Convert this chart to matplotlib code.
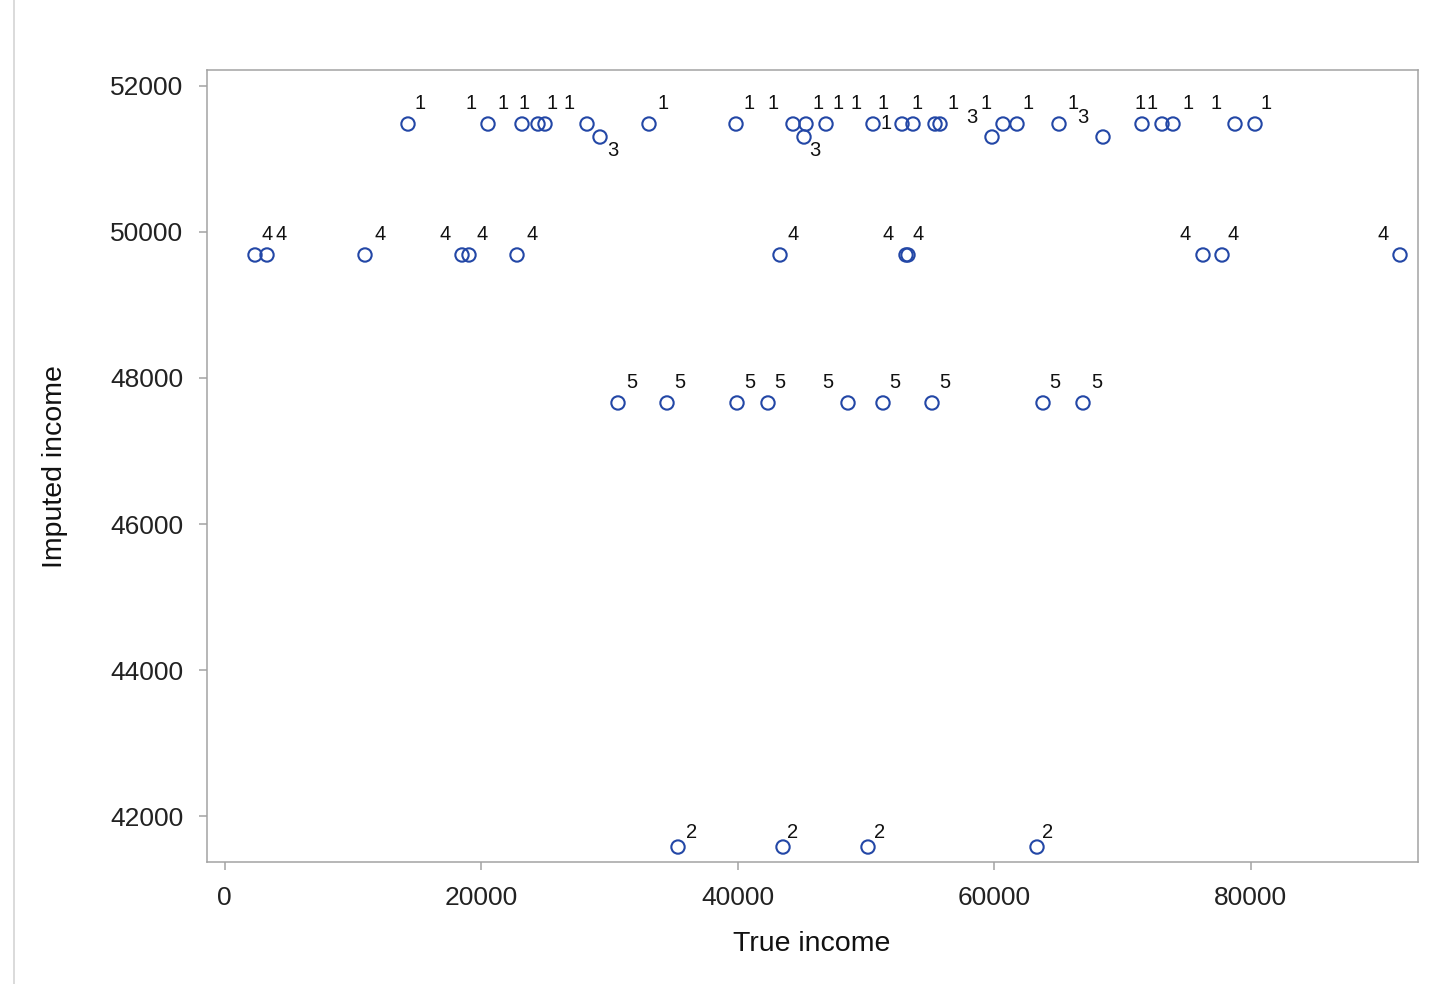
import matplotlib
matplotlib.use("Agg")
import matplotlib.pyplot as plt
from matplotlib.lines import Line2D

plt.rcParams['font.family'] = ['Liberation Sans', 'DejaVu Sans']

# true income per imputation group
true_g1 = [14308, 20546, 23197, 24444, 24990, 28265, 33099, 39883, 44327, 45341,
           46901, 50565, 52827, 53684, 55400, 55790, 60702, 61793, 65068, 71540,
           73099, 73957, 78791, 80351]
true_g2 = [35361, 43548, 50175, 63353]
true_g3 = [29279, 45185, 59844, 68499]
true_g4 = [2378, 3314, 10955, 18519, 19064, 22807, 43314, 53138, 53294, 76296,
           77778, 91657]
true_g5 = [30682, 34503, 39961, 42378, 48616, 51345, 55166, 63821, 66940]

# imputed income of each group
groups = ['1', '2', '3', '4', '5']
imputed = [51479, 41575, 51301, 49685, 47658]

# label offsets in pixels (dx per point, dy per group) -- placement only
dx_g1 = [12, -17, -19, -14, 7, -18, 14, 13, -20, 12, 12, -17, -19, -27, -18, 13,
         -17, 11, 14, -2, -10, 15, -19, 11]
dx_g2 = [14, 10, 12, 11]
dx_g3 = [13, 11, -20, -20]
dx_g4 = [12, 14, 15, -17, 13, 15, 13, -18, 10, -18, 11, -17]
dx_g5 = [14, 13, 13, 12, -20, 12, 13, 12, 14]
dy_g1 = [21] * 13 + [1] + [21] * 10
dy_g2 = [15] * 4
dy_g3 = [-13, -13, 20, 20]
dy_g4 = [20] * 12
dy_g5 = [20] * 9

xs = [true_g1, true_g2, true_g3, true_g4, true_g5]
dxs = [dx_g1, dx_g2, dx_g3, dx_g4, dx_g5]
dys = [dy_g1, dy_g2, dy_g3, dy_g4, dy_g5]

blue = '#2347a6'
frame = '#a3a3a3'

fig = plt.figure(figsize=(14.5, 9.84), dpi=100)
ax = fig.add_axes([207 / 1450, 1 - 862 / 984, 1211 / 1450, 792 / 984])

for g, x, y, dx, dy in zip(groups, xs, imputed, dxs, dys):
    ax.scatter(x, [y] * len(x), s=92, facecolors='none', edgecolors=blue,
               linewidths=1.5, zorder=3)
    for xi, dxi, dyi in zip(x, dx, dy):
        ax.annotate(g, (xi, y), xytext=(dxi, dyi), textcoords='offset pixels',
                    ha='center', va='center', fontsize=14.5, color='#111111')

ax.set_xlim(-1365, 93060)
ax.set_ylim(41370, 52219)
ax.set_xticks([0, 20000, 40000, 60000, 80000])
ax.set_yticks([42000, 44000, 46000, 48000, 50000, 52000])
ax.tick_params(direction='out', length=6, width=1.1, color=frame,
               labelsize=19, labelcolor='#222222', pad=11)
for s in ax.spines.values():
    s.set_color(frame)
    s.set_linewidth(1.1)

ax.set_xlabel('True income', fontsize=20.5, color='#111111', va='center')
ax.set_ylabel('Imputed income', fontsize=20.5, color='#111111', va='center')
ax.xaxis.set_label_coords(0.4996, -0.1035)
ax.yaxis.set_label_coords(-0.1255, 0.4987)

fig.add_artist(Line2D([14 / 1450, 14 / 1450], [0, 1], color='#d4d4d4', lw=1.2))

fig.savefig('out.png', dpi=100)
